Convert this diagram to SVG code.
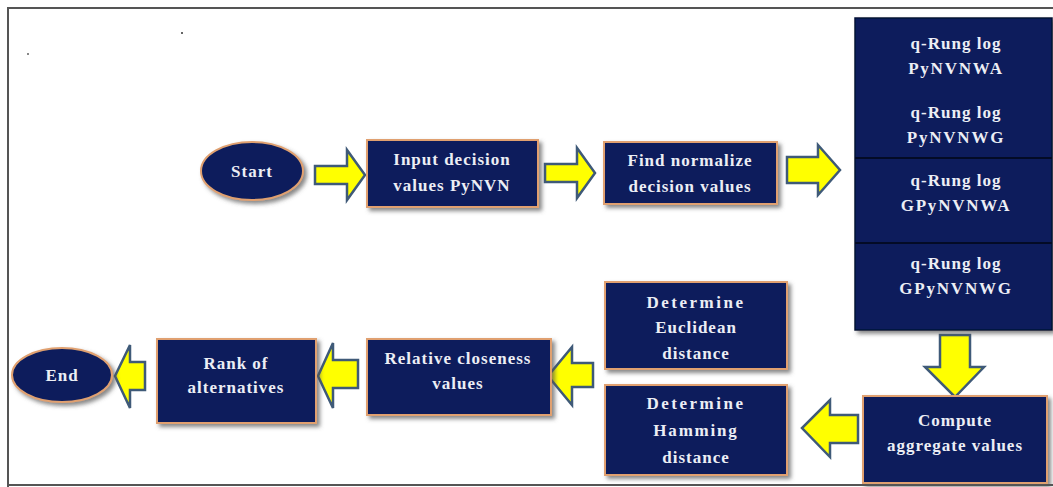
<svg xmlns="http://www.w3.org/2000/svg" width="1053" height="487" viewBox="0 0 1053 487">
<defs>
<filter id="sh" x="-10%" y="-10%" width="130%" height="140%">
<feDropShadow dx="3" dy="3" stdDeviation="2" flood-color="#555" flood-opacity="0.7"/>
</filter>
<style>
.box{fill:#0b1e5c;stroke:#e0a070;stroke-width:2;filter:url(#sh)}
.col{fill:#0b1e5c;stroke:#061236;stroke-width:1.5;filter:url(#sh)}
.div{stroke:#030b26;stroke-width:2}
.t{font-family:"Liberation Serif","Times New Roman",serif;font-weight:bold;font-size:17px;letter-spacing:1px;fill:#eceef5;text-anchor:middle}
.w{letter-spacing:2.5px}
.w2{letter-spacing:1.8px}
.ar{fill:#ffff00;stroke:#3f5a78;stroke-width:2.5;stroke-linejoin:miter}
.fr{stroke:#555;stroke-width:2;fill:none}
</style>
</defs>
<rect width="1053" height="487" fill="#fff"/>
<path class="fr" d="M1053,8 H8 V487 M8,485 H1053"/>
<rect x="181" y="32" width="2" height="2" fill="#666"/>
<rect x="27" y="53" width="2" height="2" fill="#888"/>

<g id="connectors">
<path class="ar" d="M315,166 H347 V150 L365,175 L347,200 V184 H315 Z"/>
<path class="ar" d="M545,164 H577 V148 L595,173 L577,198 V182 H545 Z"/>
<path class="ar" d="M787,157 H818 V145 L840,170 L818,195 V183 H787 Z"/>
<path class="ar" d="M940,335 H970 V367 H984 L955,397 L925,367 H940 Z"/>
<path class="ar" d="M858,415 H830 V400 L802,428 L830,457 V443 H858 Z"/>
<path class="ar" d="M593,363 H572 V347 L548,376 L572,405 V387 H593 Z"/>
<path class="ar" d="M358,360 H333 V343 L318,376 L333,408 V388 H358 Z"/>
<path class="ar" d="M145,362 H130 V345 L115,376 L130,408 V390 H145 Z"/>
</g>

<g id="start">
<ellipse class="box" cx="252" cy="171" rx="51" ry="29"/>
<text class="t" x="252" y="177">Start</text>
</g>
<g id="input">
<rect class="box" x="367" y="140" width="171" height="67"/>
<text class="t" x="452" y="165">Input decision</text>
<text class="t" x="452" y="191">values PyNVN</text>
</g>
<g id="normalize">
<rect class="box" x="604" y="142" width="173" height="62"/>
<text class="t" x="690" y="166">Find normalize</text>
<text class="t" x="690" y="192">decision values</text>
</g>
<g id="operators">
<rect class="col" x="855" y="18" width="197" height="312"/>
<line class="div" x1="855" y1="158" x2="1052" y2="158"/>
<line class="div" x1="855" y1="243" x2="1052" y2="243"/>
<text class="t" x="956" y="49">q-Rung log</text>
<text class="t w2" x="956" y="74">PyNVNWA</text>
<text class="t" x="956" y="118">q-Rung log</text>
<text class="t w2" x="956" y="143">PyNVNWG</text>
<text class="t" x="956" y="186">q-Rung log</text>
<text class="t w2" x="956" y="211">GPyNVNWA</text>
<text class="t" x="956" y="269">q-Rung log</text>
<text class="t w2" x="956" y="294">GPyNVNWG</text>
</g>
<g id="compute">
<rect class="box" x="863" y="396" width="184" height="87"/>
<text class="t" x="955" y="426">Compute</text>
<text class="t" x="955" y="451">aggregate values</text>
</g>
<g id="euclidean">
<rect class="box" x="605" y="282" width="182" height="87"/>
<text class="t w" x="696" y="308">Determine</text>
<text class="t" x="696" y="333">Euclidean</text>
<text class="t" x="696" y="359">distance</text>
</g>
<g id="hamming">
<rect class="box" x="605" y="385" width="182" height="90"/>
<text class="t w" x="696" y="409">Determine</text>
<text class="t w2" x="696" y="436">Hamming</text>
<text class="t" x="696" y="463">distance</text>
</g>
<g id="relative">
<rect class="box" x="367" y="339" width="184" height="76"/>
<text class="t" x="458" y="364">Relative closeness</text>
<text class="t" x="458" y="389">values</text>
</g>
<g id="rank">
<rect class="box" x="157" y="339" width="159" height="84"/>
<text class="t" x="236" y="369">Rank of</text>
<text class="t" x="236" y="393">alternatives</text>
</g>
<g id="end">
<ellipse class="box" cx="62" cy="375" rx="50" ry="27"/>
<text class="t" x="62" y="381">End</text>
</g>
</svg>
